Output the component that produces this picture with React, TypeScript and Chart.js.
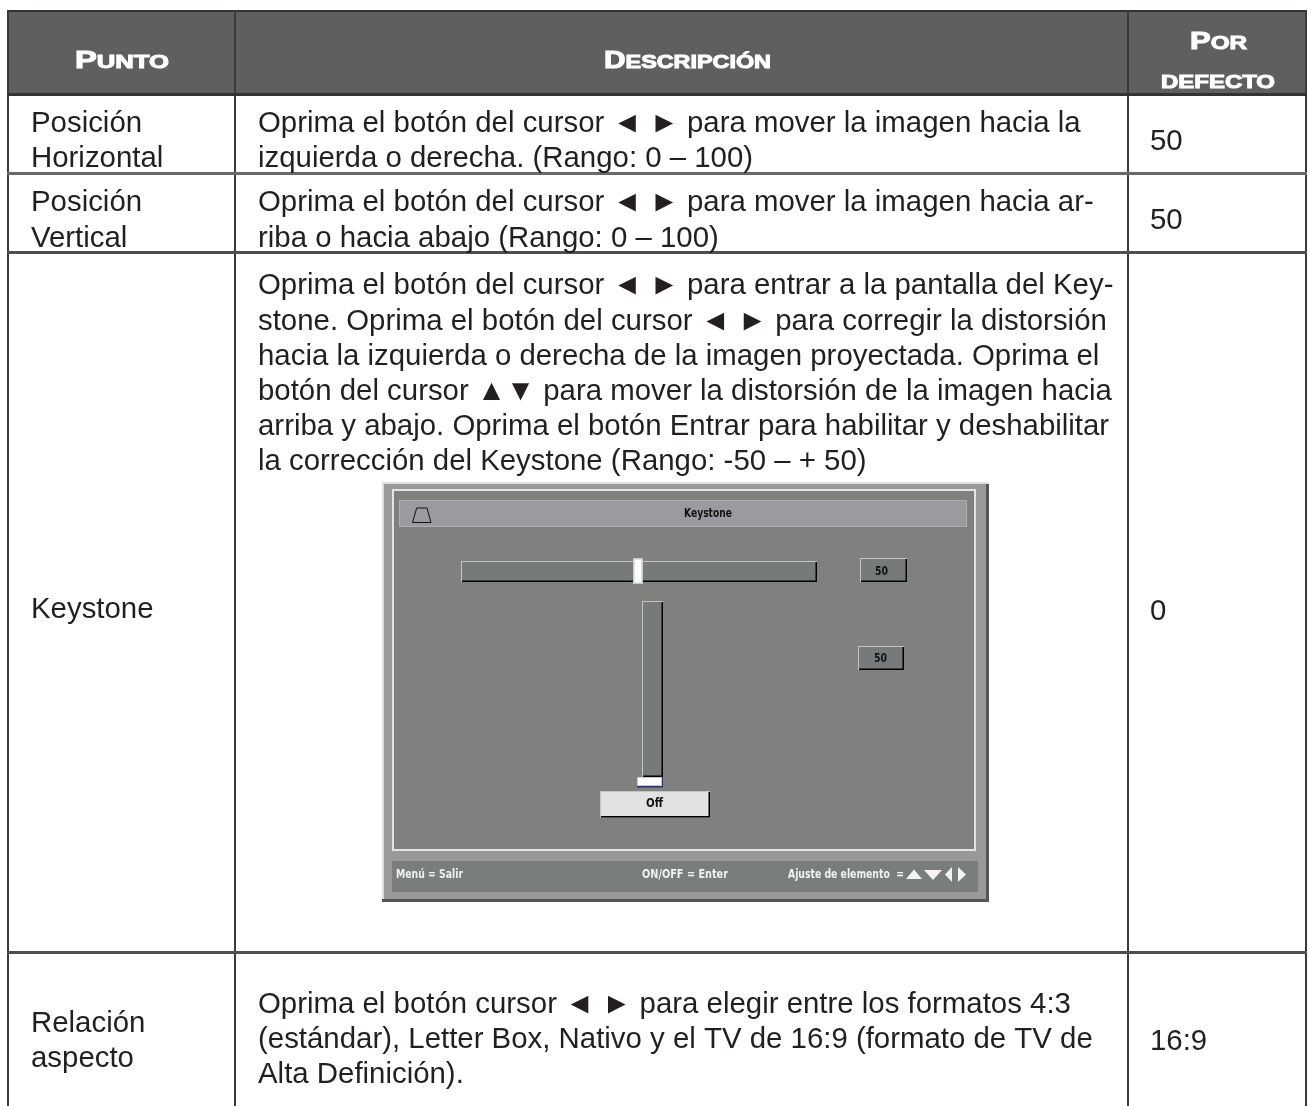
import React, { useEffect, useRef } from "react";
import { Chart, registerables } from "chart.js";

Chart.register(...registerables);

const headerPunto = ["P", "UNTO"];
const headerDescripcion = ["D", "ESCRIPCIÓN"];
const headerPor = ["P", "OR"];
const headerDefecto = "DEFECTO";

const puntoLabels = [
  ["Posición", "Horizontal"],
  ["Posición", "Vertical"],
  ["Keystone"],
  ["Relación", "aspecto"],
];
const descripcionLines = [
  ["Oprima el botón del cursor ◄ ► para mover la imagen hacia la", "izquierda o derecha. (Rango: 0 – 100)"],
  ["Oprima el botón del cursor ◄ ► para mover la imagen hacia ar-", "riba o hacia abajo (Rango: 0 – 100)"],
  [
    "Oprima el botón del cursor ◄ ► para entrar a la pantalla del Key-",
    "stone. Oprima el botón del cursor ◄ ► para corregir la distorsión",
    "hacia la izquierda o derecha de la imagen proyectada. Oprima el",
    "botón del cursor ▲▼ para mover la distorsión de la imagen hacia",
    "arriba y abajo. Oprima el botón Entrar para habilitar y deshabilitar",
    "la corrección del Keystone (Rango: -50 – + 50)",
  ],
  [
    "Oprima el botón cursor ◄ ► para elegir entre los formatos 4:3",
    "(estándar), Letter Box, Nativo y el TV de 16:9 (formato de TV de",
    "Alta Definición).",
  ],
];
const porDefecto = ["50", "50", "0", "16:9"];
const panelTitle = "Keystone";
const panelValues = ["50", "50"];
const panelToggle = "Off";
const panelFooter = ["Menú = Salir", "ON/OFF = Enter", "Ajuste de elemento  ="];

const BODY_FONT = '29.4px "Liberation Sans", Arial, sans-serif';
const INK = "#231f20";
const PANEL_FONT = 'bold 13px "DejaVu Sans", sans-serif';

const tablePlugin = {
  id: "tablePlugin",
  afterDraw(chart: any) {
    const ctx: CanvasRenderingContext2D = chart.ctx;
    const sx = (v: number) => chart.scales.x.getPixelForValue(v);
    const sy = (v: number) => chart.scales.y.getPixelForValue(v);
    const rect = (x0: number, y0: number, x1: number, y1: number, c: string) => {
      ctx.fillStyle = c;
      ctx.fillRect(sx(x0), sy(y0), sx(x1) - sx(x0), sy(y1) - sy(y0));
    };
    const poly = (pts: number[][], c: string, stroke = false) => {
      ctx.beginPath();
      pts.forEach((p, i) => (i ? ctx.lineTo(sx(p[0]), sy(p[1])) : ctx.moveTo(sx(p[0]), sy(p[1]))));
      ctx.closePath();
      if (stroke) {
        ctx.strokeStyle = c;
        ctx.lineWidth = 1;
        ctx.stroke();
      } else {
        ctx.fillStyle = c;
        ctx.fill();
      }
    };
    const text = (s: string, x: number, y: number, font = BODY_FONT, c = INK) => {
      ctx.font = font;
      ctx.fillStyle = c;
      ctx.textAlign = "left";
      ctx.textBaseline = "alphabetic";
      ctx.fillText(s, sx(x), sy(y));
    };
    const fit = (s: string, x: number, y: number, w: number, font: string, c: string) => {
      ctx.save();
      ctx.font = font;
      ctx.fillStyle = c;
      ctx.textAlign = "left";
      ctx.textBaseline = "alphabetic";
      const m = ctx.measureText(s).width;
      ctx.translate(sx(x), sy(y));
      ctx.scale(w / m, 1);
      ctx.fillText(s, 0, 0);
      ctx.restore();
    };
    const caps = (big: string, small: string, x: number, y: number, w: number, bigPx: number, smallPx: number) => {
      const f = (p: number) => `bold ${p}px "Liberation Sans", Arial, sans-serif`;
      ctx.font = f(bigPx);
      const bw = ctx.measureText(big).width;
      ctx.font = f(smallPx);
      const sw = ctx.measureText(small).width;
      const k = w / (bw + sw);
      ctx.save();
      ctx.translate(sx(x), sy(y));
      ctx.scale(k, 1);
      ctx.fillStyle = "#ffffff";
      ctx.strokeStyle = "#ffffff";
      ctx.lineWidth = 1;
      ctx.textAlign = "left";
      ctx.textBaseline = "alphabetic";
      ctx.font = f(bigPx);
      ctx.fillText(big, 0, 0);
      ctx.strokeText(big, 0, 0);
      ctx.font = f(smallPx);
      ctx.fillText(small, bw, 0);
      ctx.strokeText(small, bw, 0);
      ctx.restore();
    };

    // header band
    rect(7, 10, 1307, 95, "#5e605f");

    // grid
    const dark = "#3a3a3a";
    rect(7, 10, 1307, 12, "#333333");
    rect(7, 10, 9, 1106, dark);
    rect(1305, 10, 1307, 1106, dark);
    rect(234, 10, 236, 1106, dark);
    rect(1127, 10, 1129, 1106, dark);
    rect(7, 93, 1307, 96, "#333333");
    rect(7, 172, 1307, 175, "#6a6a6a");
    rect(7, 251, 1307, 254, "#4f4f4f");
    rect(7, 951, 1307, 954, "#4f4f4f");

    // header text
    caps(headerPunto[0], headerPunto[1], 75, 68, 94, 23, 18);
    caps(headerDescripcion[0], headerDescripcion[1], 604, 68, 167, 23, 18);
    caps(headerPor[0], headerPor[1], 1190, 49, 57, 23, 18);
    caps("", headerDefecto, 1161, 88, 114, 18, 18);

    // first column
    const col1Y = [[132, 167], [211, 247], [618], [1032, 1067]];
    puntoLabels.forEach((lines, i) => lines.forEach((l, j) => text(l, 31, col1Y[i][j])));

    // second column
    const col2Y = [[132, 167], [211, 247], [294, 330, 365, 400, 435, 470], [1013, 1048, 1083]];
    descripcionLines.forEach((lines, i) => lines.forEach((l, j) => text(l, 258, col2Y[i][j])));

    // third column
    const col3Y = [150, 229, 620, 1050];
    porDefecto.forEach((v, i) => text(v, 1150, col3Y[i]));

    // embedded panel
    rect(382, 482, 988, 901, "#999999");
    rect(382, 482, 988, 484, "#dddddd");
    rect(382, 482, 384, 901, "#dddddd");
    rect(986, 484, 989, 901, "#555555");
    rect(382, 899, 989, 902, "#555555");
    rect(392, 489, 976, 851, "#e4e4e2");
    rect(394, 491, 974, 849, "#80807e");
    rect(399, 500, 967, 527, "#b0afb2");
    rect(400, 501, 966, 526, "#9b9a9e");
    poly([[412.5, 522.5], [416.7, 508], [427, 508], [431, 522.5]], "#111111", true);
    fit(panelTitle, 684, 517, 48, PANEL_FONT, "#111111");

    const sunken = (x0: number, y0: number, x1: number, y1: number, fill: string) => {
      rect(x0, y0, x1, y1, "#c4c4c4");
      rect(x0 + 1, y0 + 1, x1, y1, "#000000");
      rect(x0 + 1, y0 + 1, x1 - 1.5, y1 - 1.5, fill);
    };
    sunken(461, 561, 817, 582, "#767a7b");
    rect(633, 558, 643, 584, "#c9c9c9");
    rect(634.5, 559.5, 641.5, 582.5, "#ffffff");
    sunken(860, 558, 907, 582, "#767a7b");
    sunken(858, 646, 904, 670, "#767a7b");
    fit(panelValues[0], 875, 575, 13, PANEL_FONT, "#111111");
    fit(panelValues[1], 874, 662, 13, PANEL_FONT, "#111111");
    sunken(642, 601, 663, 777, "#767a7b");
    rect(637, 777, 663, 787.5, "#26307a");
    rect(637, 777, 662, 786, "#c9c9c9");
    rect(638, 778, 661, 785, "#ffffff");
    sunken(600, 791, 710, 817.5, "#e2e2e2");
    fit(panelToggle, 646, 807, 17, PANEL_FONT, "#111111");

    rect(392, 861, 978, 892, "#797d7e");
    fit(panelFooter[0], 396, 878, 67, PANEL_FONT, "#f2f2f2");
    fit(panelFooter[1], 642, 878, 86, PANEL_FONT, "#f2f2f2");
    fit(panelFooter[2], 788, 878, 116, PANEL_FONT, "#f2f2f2");
    poly([[906, 879], [914, 869.5], [922, 879]], "#f4f4f4");
    poly([[924, 870], [942, 870], [933, 880]], "#f4f4f4");
    poly([[952, 867], [952, 882], [945, 874.5]], "#f4f4f4");
    poly([[958, 867], [958, 882], [966, 874.5]], "#f4f4f4");
  },
};

export default function App() {
  const ref = useRef<HTMLCanvasElement>(null);
  useEffect(() => {
    if (!ref.current) return;
    const chart = new Chart(ref.current, {
      type: "scatter",
      data: { datasets: [{ data: [] }] },
      options: {
        animation: false,
        responsive: false,
        devicePixelRatio: 1,
        layout: { padding: 0 },
        plugins: { legend: { display: false }, tooltip: { enabled: false } },
        scales: {
          x: { type: "linear", min: 0, max: 1309, display: false },
          y: { type: "linear", min: 0, max: 1106, reverse: true, display: false },
        },
      },
      plugins: [tablePlugin],
    } as any);
    return () => chart.destroy();
  }, []);
  return (
    <div style={{ position: "absolute", left: 0, top: 0, width: 1309, height: 1106, background: "#ffffff" }}>
      <canvas ref={ref} width={1309} height={1106} style={{ display: "block" }} />
    </div>
  );
}
